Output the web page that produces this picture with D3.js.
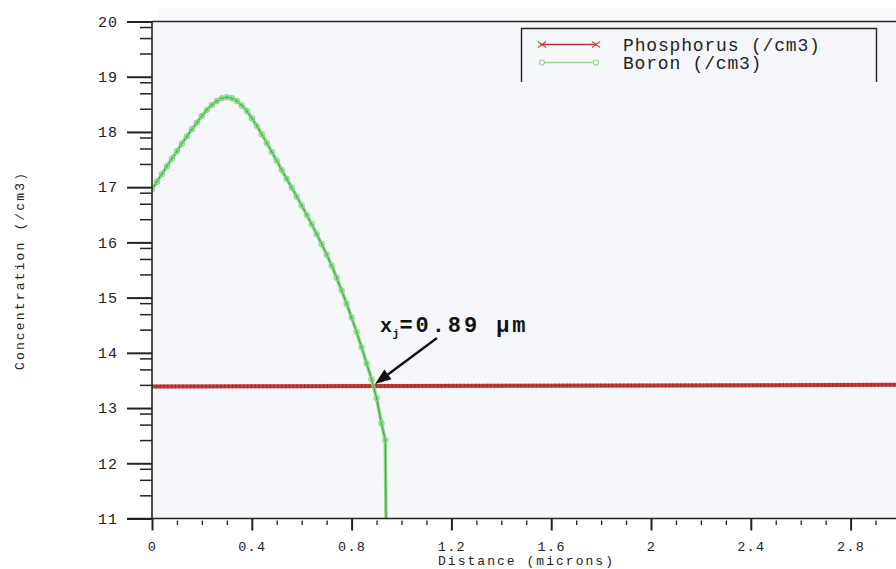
<!DOCTYPE html>
<html>
<head>
<meta charset="utf-8">
<script src="https://cdn.jsdelivr.net/npm/d3@7"></script>
<style>
  body { margin: 0; background: #fff; }
  svg { display: block; }
</style>
</head>
<body>
<script>
// Boron profile (log10 concentration) vs depth in microns
var boronX = [0, 0.02, 0.04, 0.06, 0.08, 0.10, 0.12, 0.14, 0.16, 0.18,
              0.20, 0.22, 0.24, 0.26, 0.28, 0.30, 0.32, 0.34, 0.36, 0.38,
              0.40, 0.42, 0.44, 0.46, 0.48, 0.50, 0.52, 0.54, 0.56, 0.58,
              0.60, 0.62, 0.64, 0.66, 0.68, 0.70, 0.72, 0.74, 0.76, 0.78,
              0.80, 0.82, 0.84, 0.86, 0.88, 0.90, 0.92, 0.935, 0.94];
var boronY = [16.96, 17.10, 17.24, 17.38, 17.52, 17.65, 17.79, 17.92, 18.05, 18.17,
              18.29, 18.40, 18.49, 18.56, 18.61, 18.63, 18.61, 18.56, 18.48, 18.38,
              18.25, 18.11, 17.96, 17.80, 17.64, 17.48, 17.31, 17.15, 16.99, 16.83,
              16.67, 16.50, 16.33, 16.15, 15.97, 15.78, 15.58, 15.36, 15.13, 14.89,
              14.64, 14.38, 14.10, 13.81, 13.52, 13.18, 12.72, 12.42, 10.0];

// Phosphorus background doping, essentially flat
var phosphorusX = [0, 0.5, 1.0, 1.5, 2.0, 2.5, 3.0];
var phosphorusY = [13.39, 13.395, 13.40, 13.405, 13.41, 13.415, 13.42];

var seriesNames = ['Phosphorus (/cm3)', 'Boron (/cm3)'];

var xMajor = [0, 0.4, 0.8, 1.2, 1.6, 2.0, 2.4, 2.8];
var xLabels = ['0', '0.4', '0.8', '1.2', '1.6', '2', '2.4', '2.8'];
var xMinor = [0.1, 0.2, 0.3, 0.5, 0.6, 0.7, 0.9, 1.0, 1.1, 1.3, 1.4, 1.5,
              1.7, 1.8, 1.9, 2.1, 2.2, 2.3, 2.5, 2.6, 2.7, 2.9];
var yMajor = [11, 12, 13, 14, 15, 16, 17, 18, 19, 20];
var yMinorOffsets = [0.42, 0.70, 0.90];

var junctionDepth = 0.89;
var junctionConc = 13.40;

var W = 896, H = 569;
var x = d3.scaleLinear().domain([0, 3]).range([152, 900.5]);
var y = d3.scaleLinear().domain([11, 20]).range([518.5, 21.5]);

var mono = '"Liberation Mono", "DejaVu Sans Mono", monospace';
var ink = '#222';

var svg = d3.select('body').append('svg')
    .attr('width', W)
    .attr('height', H);

// faint strip above the frame and plot background
svg.append('rect')
    .attr('x', 158).attr('y', 8).attr('width', W - 158).attr('height', 13)
    .attr('fill', '#f9f9f9');
svg.append('rect')
    .attr('x', x(0)).attr('y', y(20))
    .attr('width', W - x(0)).attr('height', y(11) - y(20))
    .attr('fill', '#f6f7fa');

svg.append('clipPath').attr('id', 'plotClip')
  .append('rect')
    .attr('x', x(0)).attr('y', y(20))
    .attr('width', W - x(0)).attr('height', y(11) - y(20));

var plot = svg.append('g').attr('clip-path', 'url(#plotClip)');

var line = d3.line()
    .x(function(d) { return x(d[0]); })
    .y(function(d) { return y(d[1]); });

// phosphorus: thick red line with a ragged marker texture on top
var pData = phosphorusX.map(function(v, i) { return [v, phosphorusY[i]]; });
plot.append('path')
    .attr('d', line(pData))
    .attr('fill', 'none')
    .attr('stroke', '#c43a3c')
    .attr('stroke-width', 4);
plot.append('path')
    .attr('d', line(pData))
    .attr('fill', 'none')
    .attr('stroke', '#8c1e22')
    .attr('stroke-width', 4.5)
    .attr('stroke-dasharray', '1.2 2.6')
    .attr('opacity', 0.5);

// boron
var bData = boronX.map(function(v, i) { return [v, boronY[i]]; });
plot.append('path')
    .attr('d', line(bData))
    .attr('fill', 'none')
    .attr('stroke', '#8adb86')
    .attr('stroke-width', 3.5);
plot.append('path')
    .attr('d', line(bData))
    .attr('fill', 'none')
    .attr('stroke', '#44a644')
    .attr('stroke-width', 1.1);
plot.selectAll('circle.b')
    .data(bData.slice(0, bData.length - 1))
  .enter().append('circle')
    .attr('class', 'b')
    .attr('cx', function(d) { return x(d[0]); })
    .attr('cy', function(d) { return y(d[1]); })
    .attr('r', 2.6)
    .attr('fill', 'none')
    .attr('stroke', '#86d883')
    .attr('stroke-width', 1.1);

// axes
function styleAxis(g, width) {
  g.select('.domain').remove();
  g.selectAll('.tick line').attr('stroke', ink).attr('stroke-width', width);
  g.selectAll('.tick text')
      .attr('fill', ink)
      .style('font-family', mono);
}

var xMinorAxis = svg.append('g')
    .attr('transform', 'translate(0,' + (y(11) + 2) + ')')
    .call(d3.axisBottom(x).tickValues(xMinor).tickSize(4.5).tickFormat(''));
styleAxis(xMinorAxis, 1.3);

var xAxis = svg.append('g')
    .attr('transform', 'translate(0,' + y(11) + ')')
    .call(d3.axisBottom(x).tickValues(xMajor).tickSize(12).tickPadding(10.5)
      .tickFormat(function(d, i) { return xLabels[i]; }));
styleAxis(xAxis, 2);
xAxis.selectAll('.tick text')
    .style('font-size', '13.5px')
    .style('letter-spacing', '1.3px');

var yMinor = [];
yMajor.slice(0, -1).forEach(function(v) {
  yMinorOffsets.forEach(function(o) { yMinor.push(v + o); });
});
var yMinorAxis = svg.append('g')
    .attr('transform', 'translate(' + x(0) + ',0)')
    .call(d3.axisLeft(y).tickValues(yMinor).tickSize(12).tickFormat(''));
styleAxis(yMinorAxis, 1.5);

var yAxis = svg.append('g')
    .attr('transform', 'translate(' + x(0) + ',0)')
    .call(d3.axisLeft(y).tickValues(yMajor).tickSize(25).tickPadding(9)
      .tickFormat(d3.format('d')));
styleAxis(yAxis, 2);
yAxis.selectAll('.tick text')
    .style('font-size', '15px')
    .style('letter-spacing', '1px');

// frame lines
svg.append('line')
    .attr('x1', x(0)).attr('x2', x(0)).attr('y1', y(20)).attr('y2', y(11))
    .attr('stroke', ink).attr('stroke-width', 1.6);
svg.append('line')
    .attr('x1', 127).attr('x2', W).attr('y1', y(11)).attr('y2', y(11))
    .attr('stroke', ink).attr('stroke-width', 1.6);
svg.append('line')
    .attr('x1', x(0)).attr('x2', W).attr('y1', y(20)).attr('y2', y(20))
    .attr('stroke', ink).attr('stroke-width', 1.6);

// axis titles
svg.append('text')
    .attr('x', 438).attr('y', 565)
    .attr('textLength', 175).attr('lengthAdjust', 'spacing')
    .style('font-family', mono).style('font-size', '13px')
    .attr('fill', ink)
    .text('Distance (microns)');
svg.append('text')
    .attr('transform', 'translate(24,370) rotate(-90)')
    .attr('textLength', 197).attr('lengthAdjust', 'spacing')
    .style('font-family', mono).style('font-size', '13px')
    .attr('fill', ink)
    .text('Concentration (/cm3)');

// legend
var legend = svg.append('g');
legend.append('path')
    .attr('d', 'M521.5,82V28.5H876.5V82')
    .attr('fill', 'none').attr('stroke', ink).attr('stroke-width', 1.4);

var legendRows = [
  {name: seriesNames[0], y: 44.5, line: '#a83a3a', mark: 'x', color: '#d0474a', base: 50.5},
  {name: seriesNames[1], y: 62.5, line: '#8fd98c', mark: 'o', color: '#8fd98c', base: 69}
];
legendRows.forEach(function(r) {
  legend.append('line')
      .attr('x1', 540).attr('x2', 597).attr('y1', r.y).attr('y2', r.y)
      .attr('stroke', r.line).attr('stroke-width', 1.3);
  [542, 596].forEach(function(cx) {
    if (r.mark === 'x') {
      legend.append('path')
          .attr('d', 'M' + (cx - 4) + ',' + (r.y - 3) + 'L' + (cx + 4) + ',' + (r.y + 3) +
                'M' + (cx - 4) + ',' + (r.y + 3) + 'L' + (cx + 4) + ',' + (r.y - 3))
          .attr('stroke', r.color).attr('stroke-width', 1.2);
    } else {
      legend.append('circle')
          .attr('cx', cx).attr('cy', r.y).attr('r', 2.5)
          .attr('fill', '#fff').attr('stroke', r.color).attr('stroke-width', 1.2);
    }
  });
  legend.append('text')
      .attr('x', 623).attr('y', r.base)
      .attr('textLength', r.name.length * 11.7 - 2).attr('lengthAdjust', 'spacing')
      .style('font-family', mono).style('font-size', '18px')
      .attr('fill', ink)
      .text(r.name);
});

// junction depth annotation: x, subscript j, then the value
var annFont = {family: mono, weight: 'bold', fill: '#111'};
svg.append('text')
    .attr('x', 380).attr('y', 332)
    .style('font-family', annFont.family).style('font-weight', annFont.weight)
    .style('font-size', '20px').attr('fill', annFont.fill)
    .text('x');
svg.append('text')
    .attr('x', 392.5).attr('y', 337)
    .style('font-family', annFont.family).style('font-weight', annFont.weight)
    .style('font-size', '11px').attr('fill', annFont.fill)
    .text('j');
svg.append('text')
    .attr('x', 399.5).attr('y', 332)
    .attr('textLength', 126).attr('lengthAdjust', 'spacing')
    .style('font-family', annFont.family).style('font-weight', annFont.weight)
    .style('font-size', '22px').attr('fill', annFont.fill)
    .text('=' + junctionDepth.toFixed(2) + ' \u00b5m');

var tipX = x(junctionDepth) + 1, tipY = y(junctionConc) - 2;
var tailX = 437, tailY = 338;
var ang = Math.atan2(tipY - tailY, tipX - tailX);
var headLen = 16, headW = 6;
var bx = tipX - headLen * Math.cos(ang), by = tipY - headLen * Math.sin(ang);
svg.append('line')
    .attr('x1', tailX).attr('y1', tailY).attr('x2', bx).attr('y2', by)
    .attr('stroke', '#111').attr('stroke-width', 2.4);
svg.append('path')
    .attr('d', 'M' + tipX + ',' + tipY +
          'L' + (bx + headW * Math.sin(ang)) + ',' + (by - headW * Math.cos(ang)) +
          'L' + (bx - headW * Math.sin(ang)) + ',' + (by + headW * Math.cos(ang)) + 'Z')
    .attr('fill', '#111');
</script>
</body>
</html>
